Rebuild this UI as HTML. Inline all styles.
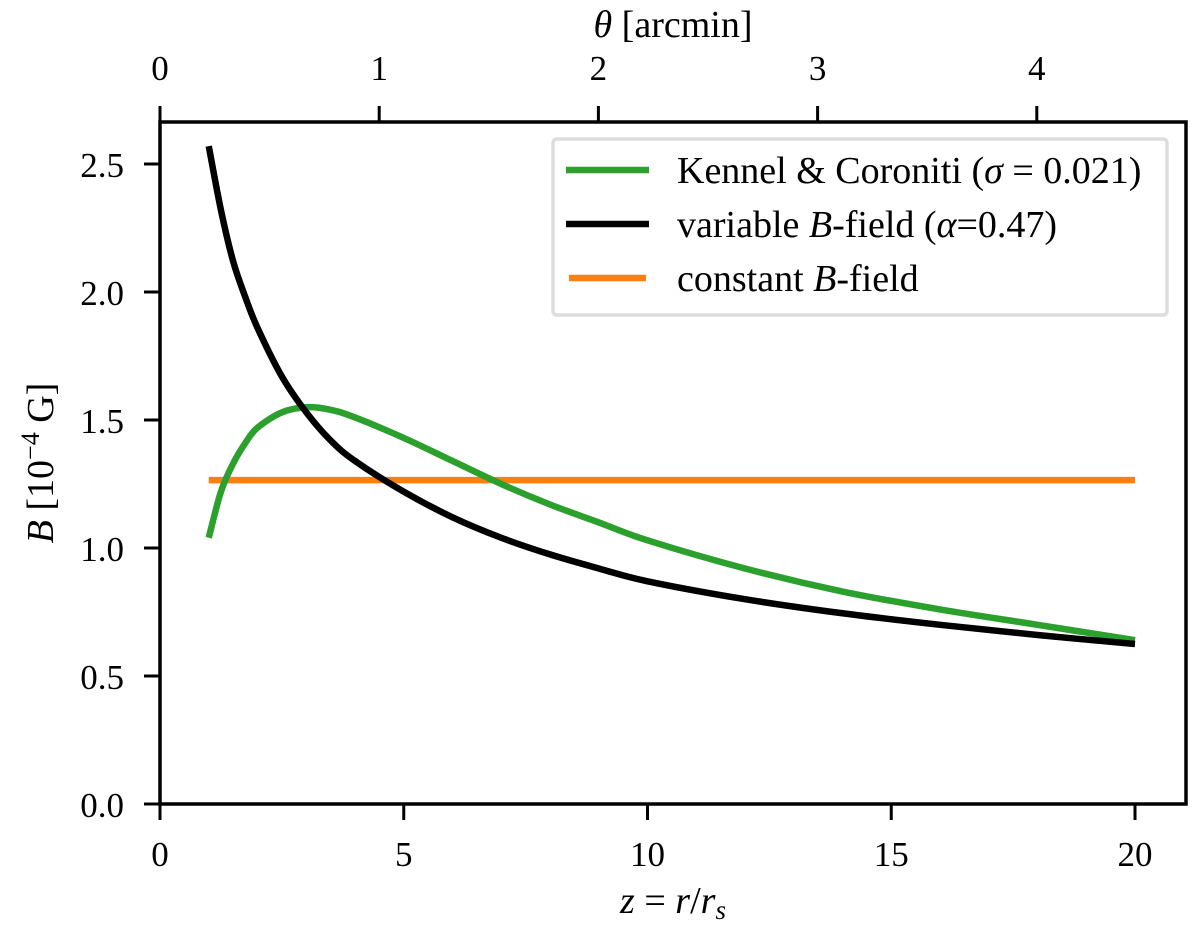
<!DOCTYPE html>
<html><head><meta charset="utf-8"><style>
body{margin:0;background:#fff}
svg text{font-family:"Liberation Serif",serif;fill:#000}
</style></head><body>
<svg id="chart" width="1200" height="928">
<g id="grid"></g>
<g id="series"></g>
<g id="axes"></g>
</svg>
<script>
const zBlack=[1,1.25,1.5,1.75,2,2.5,3,3.5,4,5,6,7,8,9,10,12,14,16,18,20];
const bBlack=[2.57,2.32,2.12,1.98,1.86,1.67,1.53,1.42,1.34,1.22,1.12,1.04,0.975,0.92,0.87,0.80,0.745,0.70,0.66,0.625];
const zGreen=[1,1.25,1.5,1.75,2,2.5,3,3.5,4,5,6,7,8,9,10,12,14,16,18,20];
const bGreen=[1.04,1.22,1.33,1.41,1.47,1.53,1.55,1.54,1.51,1.43,1.34,1.25,1.17,1.10,1.03,0.92,0.83,0.76,0.70,0.64];
const zOrange=[1,20];
const bOrange=[1.265,1.265];
const xTicks=[0,5,10,15,20];
const yTicks=[0.0,0.5,1.0,1.5,2.0,2.5];
const thetaTicks=[0,1,2,3,4];

const L=160,R=1186,T=122,B=804;
const X=z=>160+z*48.75;
const Y=v=>804-v*256;
const TH=t=>160+t*219.2;
const NS="http://www.w3.org/2000/svg";
function mk(tag,attrs,parent){const e=document.createElementNS(NS,tag);for(const k in attrs)e.setAttribute(k,attrs[k]);parent.appendChild(e);return e;}
function pathD(xs,ys){
  const p=xs.map((x,i)=>[X(x),Y(ys[i])]);
  let d=`M${p[0][0]},${p[0][1]}`;
  for(let i=0;i<p.length-1;i++){
    const p0=p[i-1]||p[i],p1=p[i],p2=p[i+1],p3=p[i+2]||p2;
    const c1=[p1[0]+(p2[0]-p0[0])/6,p1[1]+(p2[1]-p0[1])/6];
    const c2=[p2[0]-(p3[0]-p1[0])/6,p2[1]-(p3[1]-p1[1])/6];
    d+=` C${c1[0]},${c1[1]} ${c2[0]},${c2[1]} ${p2[0]},${p2[1]}`;
  }
  return d;
}
const s=document.getElementById('series');
let e;
e=mk('path',{d:pathD(zOrange,bOrange),stroke:'#ff7f0e','stroke-width':6.5,fill:'none'},s);


e=mk('path',{d:pathD(zGreen,bGreen),stroke:'#2ca02c','stroke-width':6.5,fill:'none'},s);


e=mk('path',{d:pathD(zBlack,bBlack),stroke:'#000','stroke-width':6.5,fill:'none'},s);



const a=document.getElementById('axes');
e=mk('rect',{x:L,y:T,width:R-L,height:B-T,fill:'none',stroke:'#000','stroke-width':3.5},a);


xTicks.forEach(t=>{
  mk('line',{x1:X(t),x2:X(t),y1:B,y2:B+16,stroke:'#000','stroke-width':3},a);
  const tx=mk('text',{x:X(t),y:B+62,'text-anchor':'middle','font-size':35},a);tx.textContent=t;
  
  
});
yTicks.forEach(t=>{
  mk('line',{x1:L-16,x2:L,y1:Y(t),y2:Y(t),stroke:'#000','stroke-width':3},a);
  const tx=mk('text',{x:L-36,y:Y(t)+13,'text-anchor':'end','font-size':35},a);tx.textContent=t.toFixed(1);
  
  
});
thetaTicks.forEach(t=>{
  mk('line',{x1:TH(t),x2:TH(t),y1:T-16,y2:T,stroke:'#000','stroke-width':3},a);
  const tx=mk('text',{x:TH(t),y:80,'text-anchor':'middle','font-size':35},a);tx.textContent=t;
  
  
});
</script>
<svg width="1200" height="928" style="position:absolute;left:0;top:0">
<text x="673" y="913" text-anchor="middle" font-size="38"><tspan font-style="italic">z</tspan> = <tspan font-style="italic">r</tspan>/<tspan font-style="italic">r</tspan><tspan font-style="italic" font-size="27" dy="6">s</tspan></text>
<text x="673" y="37" text-anchor="middle" font-size="38"><tspan font-style="italic">θ</tspan> [arcmin]</text>
<text transform="translate(53,463) rotate(-90)" text-anchor="middle" font-size="38"><tspan font-style="italic">B</tspan> [10<tspan font-size="26" dy="-14">−4</tspan><tspan dy="14"> G]</tspan></text>
<g>
<rect x="553" y="139" width="614" height="176" rx="4" fill="#fff" fill-opacity="0.8" stroke="#ddd" stroke-width="3.5"/>
<line x1="566" y1="170" x2="649" y2="170" stroke="#2ca02c" stroke-width="6.5"/>
<text x="677" y="183" font-size="38">Kennel &amp; Coroniti (<tspan font-style="italic">σ</tspan> = 0.021)</text>
<line x1="566" y1="224" x2="649" y2="224" stroke="#000" stroke-width="6.5"/>
<text x="677" y="237" font-size="38">variable <tspan font-style="italic">B</tspan>-field (<tspan font-style="italic">α</tspan>=0.47)</text>
<line x1="569" y1="278" x2="646" y2="278" stroke="#ff7f0e" stroke-width="6.5"/>
<text x="677" y="291" font-size="38">constant <tspan font-style="italic">B</tspan>-field</text>
</g>
</svg>
</body></html>
